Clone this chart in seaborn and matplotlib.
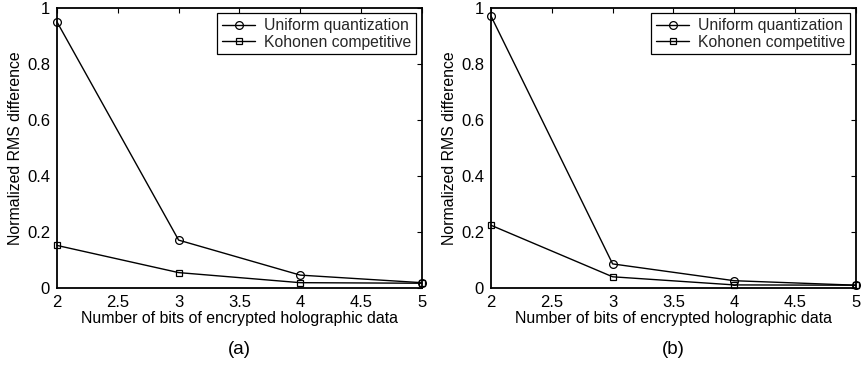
import matplotlib
matplotlib.use("Agg")
import matplotlib.pyplot as plt
import seaborn as sns
import pandas as pd

sns.set_theme(style="white")
plt.rcParams['font.family'] = ['Liberation Sans', 'DejaVu Sans']

bits = [2, 3, 4, 5]
uniform_a = [0.950, 0.171, 0.046, 0.019]
kohonen_a = [0.152, 0.055, 0.019, 0.017]
uniform_b = [0.971, 0.086, 0.026, 0.010]
kohonen_b = [0.224, 0.040, 0.011, 0.010]
panel_labels = ["(a)", "(b)"]
series_names = ["Uniform quantization", "Kohonen competitive"]

fig = plt.figure(figsize=(8.68, 3.68), dpi=100)
ax_a = fig.add_axes([0.0657, 0.2174, 0.4203, 0.7609])
ax_b = fig.add_axes([0.5657, 0.2174, 0.4203, 0.7609])

for ax, uni, koh, lab in [(ax_a, uniform_a, kohonen_a, panel_labels[0]),
                          (ax_b, uniform_b, kohonen_b, panel_labels[1])]:
    df = pd.DataFrame({"bits": bits, "uni": uni, "koh": koh})
    sns.lineplot(data=df, x="bits", y="uni", ax=ax, color="black", lw=1.0,
                 marker="o", markersize=5.6, markerfacecolor="none",
                 markeredgecolor="black", markeredgewidth=0.9,
                 label=series_names[0], clip_on=False, zorder=3)
    sns.lineplot(data=df, x="bits", y="koh", ax=ax, color="black", lw=1.0,
                 marker="s", markersize=5.0, markerfacecolor="none",
                 markeredgecolor="black", markeredgewidth=0.9,
                 label=series_names[1], clip_on=False, zorder=3)
    ax.set_xlim(2, 5)
    ax.set_ylim(0, 1)
    ax.set_xticks([2, 2.5, 3, 3.5, 4, 4.5, 5])
    ax.set_xticklabels(["2", "2.5", "3", "3.5", "4", "4.5", "5"])
    ax.set_yticks([0, 0.2, 0.4, 0.6, 0.8, 1])
    ax.set_yticklabels(["0", "0.2", "0.4", "0.6", "0.8", "1"])
    ax.tick_params(direction="in", top=True, right=True, length=3.5,
                   width=0.8, labelsize=12, colors="black", pad=5)
    for sp in ax.spines.values():
        sp.set_color("black")
        sp.set_linewidth(1.3)
    ax.set_xlabel("Number of bits of encrypted holographic data",
                  fontsize=11.4, color="black", labelpad=1)
    ax.set_ylabel("Normalized RMS difference", fontsize=11.4,
                  color="black", labelpad=3)
    leg = ax.legend(loc="upper right", fontsize=11.3, frameon=True,
                    fancybox=False, edgecolor="black", framealpha=1,
                    borderpad=0.3, handlelength=2.1, handletextpad=0.6,
                    labelspacing=0.1, borderaxespad=0.35)
    leg.get_frame().set_linewidth(0.9)
    ax.text(0.5, -0.19, lab, transform=ax.transAxes, ha="center",
            va="top", fontsize=13.5, color="black")

fig.savefig("out.png", dpi=100)
